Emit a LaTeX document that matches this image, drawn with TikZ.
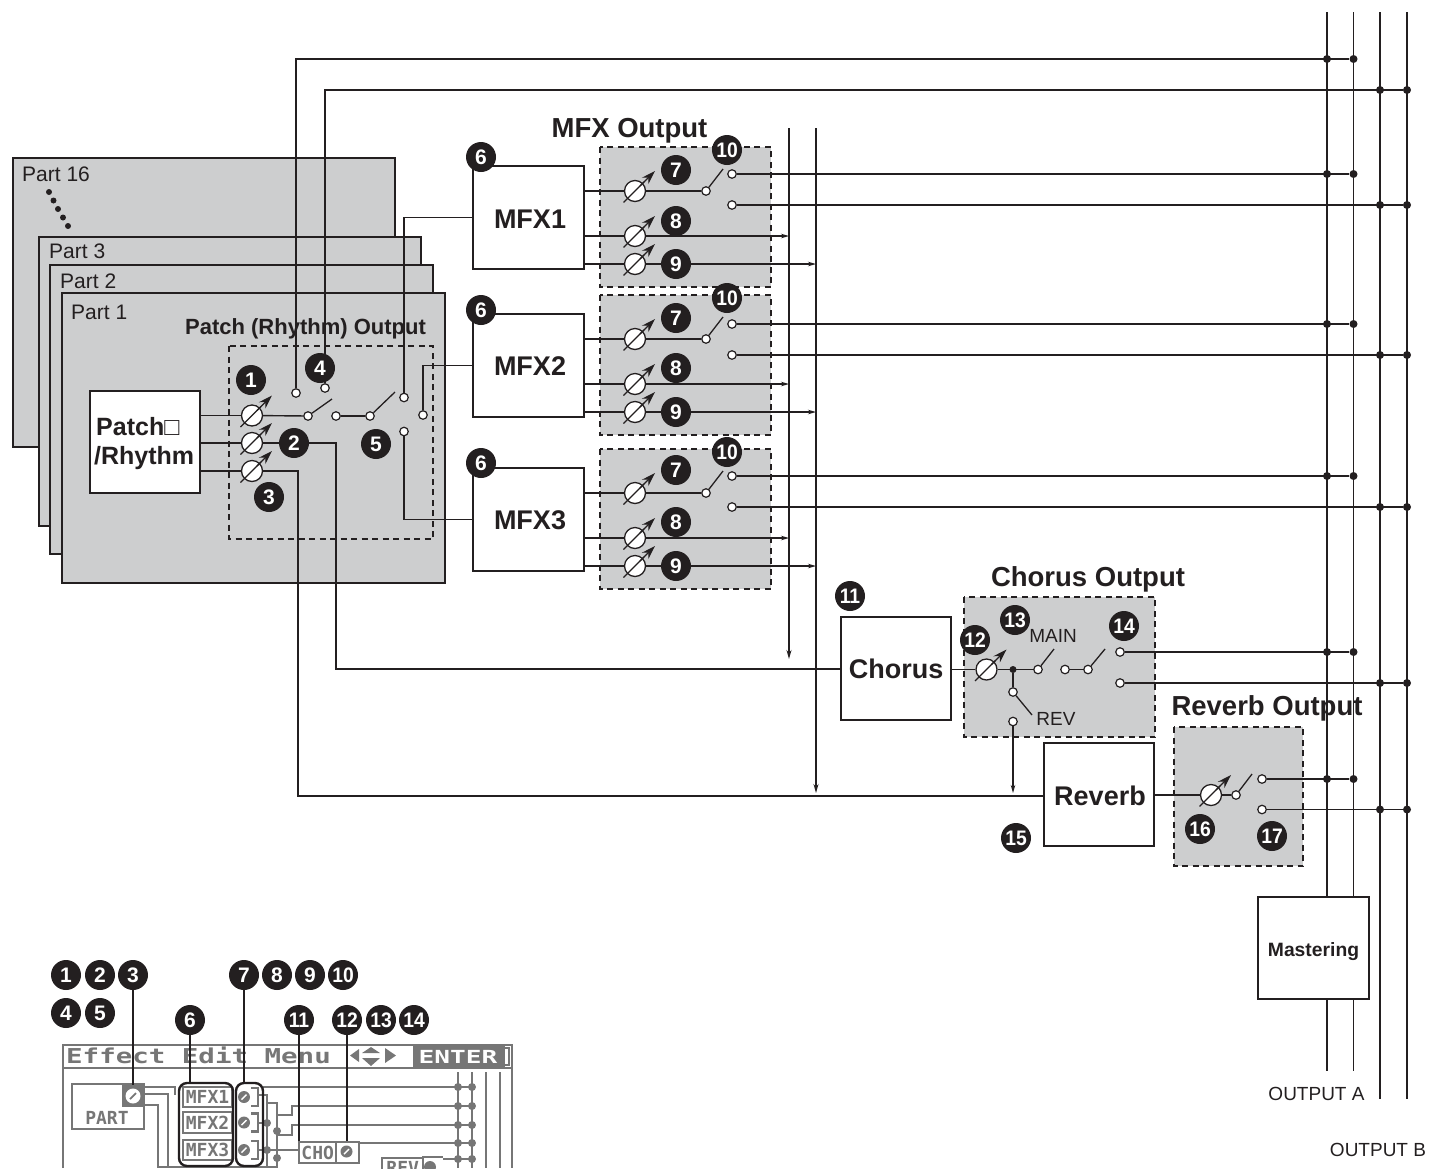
\documentclass[tikz,border=0pt]{standalone}
\usepackage{graphicx}
\usepackage{fontspec}
\setmainfont{Liberation Sans}
\newfontfamily\lcdfont{DejaVu Sans Mono}
\usetikzlibrary{arrows.meta}
\definecolor{ink}{HTML}{231F20}
\definecolor{panel}{HTML}{CDCECF}
\definecolor{lcd}{HTML}{767676}
\newcommand{\fs}[1]{\fontsize{#1}{#1}\selectfont}
\newcommand{\twod}[1]{\scalebox{.92}[1]{#1}}
\tikzset{
  wire/.style={draw=ink,line width=1.4pt},
  arrowwire/.style={wire,-{Stealth[length=9pt,width=5pt]}},
  part/.style={draw=ink,line width=1.2pt,fill=panel},
  gbox/.style={draw=ink,line width=1.3pt,fill=panel,dashed,dash pattern=on 6pt off 4.5pt},
  wbox/.style={draw=ink,line width=1.3pt,fill=white,inner sep=0pt,font=\bfseries\fs{27},text=ink},
  term/.style={circle,draw=ink,line width=1.2pt,fill=white,minimum size=8.5pt,inner sep=0pt},
  knob/.style={circle,draw=ink,line width=1.3pt,fill=white,minimum size=21pt,inner sep=0pt},
  dot/.style={circle,fill=ink,minimum size=8pt,inner sep=0pt},
  badge/.style={circle,fill=ink,minimum size=30pt,inner sep=0pt,text=white,font=\bfseries\fs{21}},
  lab/.style={inner sep=0pt,text=ink,font=\fs{21}},
  small/.style={inner sep=0pt,text=ink,font=\fs{19}},
  head/.style={inner sep=0pt,text=ink,font=\bfseries\fs{27.5}},
  lcdline/.style={draw=lcd,line width=2.4pt},
  lcdbox/.style={draw=lcd,line width=2.4pt,fill=white,inner sep=0pt,text=lcd,font=\lcdfont\bfseries\fs{18}},
  lcddot/.style={circle,fill=lcd,minimum size=8pt,inner sep=0pt},
  lcdknob/.style={circle,fill=lcd,minimum size=12pt,inner sep=0pt},
  halo/.style={draw=ink,line width=2.4pt,rounded corners=8pt},
  leader/.style={draw=ink,line width=2.4pt},
}
\newcommand{\knobat}[3]{%
  \node[knob] (#1) at (#2,#3) {};
  \draw[ink,line width=1.3pt] (#1)+(-11.5,11.5) -- +(9,-9);
  \draw[ink,line width=1.3pt,-{Stealth[length=14pt,width=9pt]}] (#1)+(5,-5) -- +(20,-20);
}
\newcommand{\swarm}[3]{\draw[ink,line width=1.3pt] (#1) -- (#2,#3);}
\newcommand{\bad}[3]{\node[badge] at (#1,#2) {#3};}
\newcommand{\badb}[3]{\node[badge] at (#1,#2) {\twod{#3}};}
\begin{document}
\begin{tikzpicture}[x=1pt,y=-1pt]
\useasboundingbox (0,0) rectangle (1439,1168);
\clip (0,0) rectangle (1439,1168);

% Parts
\draw[part] (13,158) rectangle (395,447);
\draw[part] (39,237) rectangle (421,526);
\draw[part] (50,265) rectangle (433,554);
\draw[part] (62,293) rectangle (445,583);
\node[lab,anchor=west] (p16) at (22,174.5) {Part 16};
\node[lab,anchor=west] (p3) at (49,251.5) {Part 3};
\node[lab,anchor=west] (p2) at (60,281.5) {Part 2};
\node[lab,anchor=west] (p1) at (71,312) {Part 1};
\foreach \x/\y in {49/192,53.5/200.5,58/209,63/217.5,68/226} \fill[ink] (\x,\y) circle (3pt);

% Panels
\draw[draw=ink,line width=1.3pt,dashed,dash pattern=on 6pt off 4.5pt] (229,346) rectangle (433,539);
\draw[gbox] (600,147) rectangle (771,287);
\draw[gbox] (600,295) rectangle (771,435);
\draw[gbox] (600,449) rectangle (771,589);
\draw[gbox] (964,597) rectangle (1155,737);
\draw[gbox] (1174,727) rectangle (1303,866);

% Headings
\node[inner sep=0pt,text=ink,font=\bfseries\fs{22}] (hpatch) at (305.5,329) {Patch (Rhythm) Output};
\node[head] (hmfx) at (629.5,131) {MFX Output};
\node[head] (hcho) at (1088,579) {Chorus Output};
\node[head] (hrev) at (1267,708) {Reverb Output};

% Output buses
\coordinate (busAt) at (1327,12); \coordinate (busAb) at (1327,1071);
\coordinate (busBt) at (1353.5,12); \coordinate (busBb) at (1353.5,1071);
\coordinate (busCt) at (1380,12); \coordinate (busCb) at (1380,1099);
\coordinate (busDt) at (1407,12); \coordinate (busDb) at (1407,1099);
\draw[wire] (busAt) -- (busAb);
\draw[wire] (busBt) -- (busBb);
\draw[wire] (busCt) -- (busCb);
\draw[wire] (busDt) -- (busDb);
\node[draw=ink,line width=1.3pt,fill=white,inner sep=0pt,minimum width=111pt,minimum height=102pt] (master) at (1313.5,948) {};
\node[inner sep=0pt,text=ink,font=\bfseries\fs{19.3}] (mastertxt) at (1313.5,952) {Mastering};
\node[small] (outa) at (1316.5,1094) {OUTPUT A};
\node[small] (outb) at (1378,1150) {OUTPUT B};

% Effect buses
\coordinate (sendTa) at (789,128); \coordinate (sendBa) at (789,659);
\coordinate (sendTb) at (816,128); \coordinate (sendBb) at (816,793);
\draw[arrowwire] (sendTa) -- (sendBa);
\draw[arrowwire] (sendTb) -- (sendBb);

% Patch
\node[draw=ink,line width=1.3pt,fill=white,minimum width=110pt,minimum height=102pt,inner sep=0pt] (patch) at (145,442) {};
\node[inner sep=0pt,anchor=west,text=ink,font=\bfseries\fs{25}] (patcha) at (96,427) {Patch□};
\node[inner sep=0pt,anchor=west,text=ink,font=\bfseries\fs{25}] (patchb) at (94,458) {/Rhythm};

\knobat{k1}{252}{415.5}
\knobat{k2}{252}{443}
\knobat{k3}{252}{471}
\node[term] (ta) at (296,393) {};
\node[term] (tb) at (325,388) {};
\node[term] (tc) at (308,416) {};
\node[term] (td) at (336,416) {};
\node[term] (te) at (370,416) {};
\node[term] (tf) at (404,397.5) {};
\node[term] (tg) at (423,415) {};
\node[term] (th) at (404,431.5) {};
\swarm{tc}{332}{399}
\swarm{te}{395}{392}

% MFX
\foreach \n/\o/\p/\t/\ty in {1/0/0/MFX1/219,2/148/150/MFX2/366,3/302/302/MFX3/520}{
  \node[wbox,minimum width=111pt,minimum height=103pt] (mfx\n) at (528.5,217.5+\o) {};
  \node[inner sep=0pt,text=ink,font=\bfseries\fs{27}] (mfxt\n) at (530,\ty) {\t};
  \knobat{ka\n}{635}{191+\o}
  \knobat{kb\n}{635}{236+\o}
  \knobat{kc\n}{635}{264+\o}
  \node[term] (sa\n) at (706,191+\o) {};
  \node[term] (oa\n) at (732,174+\p) {};
  \node[term] (ob\n) at (732,205+\p) {};
  \swarm{sa\n}{723}{169+\o}
  \node[dot] (da\n) at (1327,174+\p) {};
  \node[dot] (db\n) at (1353.5,174+\p) {};
  \node[dot] (dc\n) at (1380,205+\p) {};
  \node[dot] (dd\n) at (1407,205+\p) {};
  \draw[wire] (mfx\n.east |- ka\n) -- (ka\n);
  \draw[wire] (ka\n) -- (sa\n);
  \draw[wire] (mfx\n.east |- kb\n) -- (kb\n);
  \draw[wire] (mfx\n.east |- kc\n) -- (kc\n);
  \draw[wire,-{Stealth[length=8pt,width=4.5pt]}] (kb\n) -- (sendTa |- kb\n);
  \draw[wire,-{Stealth[length=8pt,width=4.5pt]}] (kc\n) -- (sendTb |- kc\n);
  \draw[wire] (oa\n) -- (db\n);
  \draw[wire] (ob\n) -- (dd\n);
}

% Top dots
\node[dot] (top1) at (1327,59) {};
\node[dot] (top2) at (1353.5,59) {};
\node[dot] (top3) at (1380,90) {};
\node[dot] (top4) at (1407,90) {};

% Patch wires
\draw[wire] (patch.east |- k1) -- (k1);
\draw[wire] (patch.east |- k2) -- (k2);
\draw[wire] (patch.east |- k3) -- (k3);
\draw[wire] (k1) -- (tc);
\draw[wire] (td) -- (te);
\draw[wire] (ta) |- (top2);
\draw[wire] (tb) |- (top4);
\draw[wire] (tf) |- (mfx1.west);
\draw[wire] (tg) |- (mfx2.west);
\draw[wire] (th) |- (mfx3.west);

% Chorus
\node[wbox,minimum width=110pt,minimum height=103pt] (chorus) at (896,668.5) {Chorus};
\knobat{kcho}{986.5}{669.5}
\node[dot,minimum size=7pt] (jn) at (1013,669.5) {};
\node[term] (cm) at (1038,669.5) {};
\node[term] (cn) at (1065,669.5) {};
\node[term] (co) at (1088,669.5) {};
\node[term] (cp) at (1120,652) {};
\node[term] (cq) at (1120,683) {};
\node[term] (cr) at (1013,692) {};
\node[term] (cs) at (1013,721.5) {};
\swarm{cm}{1054}{649}
\swarm{co}{1105}{649}
\swarm{cr}{1032}{715}
\node[small] (lmain) at (1053,636) {MAIN};
\node[small] (lrev) at (1056,718.5) {REV};
\draw[wire] (chorus.east |- kcho) -- (kcho);
\draw[wire] (kcho) -- (cm);
\draw[wire] (jn) -- (cr);
\draw[wire] (cn) -- (co);
\node[dot] (d1) at (1327,652) {};
\node[dot] (d2) at (1353.5,652) {};
\node[dot] (d3) at (1380,683) {};
\node[dot] (d4) at (1407,683) {};
\draw[wire] (cp) -- (d2);
\draw[wire] (cq) -- (d4);

% Reverb
\node[wbox,minimum width=110pt,minimum height=103pt] (reverb) at (1099,794.5) {};
\node[inner sep=0pt,text=ink,font=\bfseries\fs{27}] (revtxt) at (1100,796) {Reverb};
\knobat{krev}{1211}{795}
\node[term] (ra) at (1236,795) {};
\node[term] (rb) at (1262,779) {};
\node[term] (rc) at (1262,809.5) {};
\swarm{ra}{1252}{774}
\draw[wire] (reverb.east |- krev) -- (krev);
\draw[wire] (krev) -- (ra);
\node[dot] (d5) at (1327,779) {};
\node[dot] (d6) at (1353.5,779) {};
\node[dot] (d7) at (1380,809.5) {};
\node[dot] (d8) at (1407,809.5) {};
\draw[wire] (rb) -- (d6);
\draw[wire] (rc) -- (d8);

% Sends
\draw[wire] (k2) -| (336,669) -- (chorus.west |- 336,669);
\draw[wire] (k3) -| (298,796) -- (reverb.west |- 298,796);
\draw[wire,-{Stealth[length=8pt,width=4.5pt]}] (cs) -- (1013,793);

% Badges
\bad{251}{380}{1}\bad{294}{443}{2}\bad{269}{497}{3}\bad{320}{368}{4}\bad{376}{444}{5}
\foreach \a/\b/\c/\d/\e in {157/170/221/264/150,310/318/368/412/298,463/470/522/566/452}{
  \bad{481}{\a}{6}\bad{676}{\b}{7}\bad{676}{\c}{8}\bad{676}{\d}{9}\badb{727}{\e}{10}
}
\badb{850}{596}{11}\badb{975}{640}{12}\badb{1015}{620}{13}\badb{1124}{626}{14}
\badb{1016}{838}{15}\badb{1200}{829}{16}\badb{1272}{836}{17}

% LCD screen
\draw[lcdline] (63,1168) -- (63,1045) -- (512,1045) -- (512,1168);
\draw[lcdline] (63,1068) -- (512,1068);
\node[inner sep=0pt,anchor=west,text=lcd,font=\lcdfont\bfseries\fs{20.5}] (ttl) at (66,1055.5) {\scalebox{1.34}[1]{Effect Edit Menu}};
\fill[lcd] (350,1055.5) -- (359,1049) -- (359,1062) -- cycle;
\fill[lcd] (371,1047) -- (362,1053) -- (380,1053) -- cycle;
\fill[lcd] (371,1066) -- (362,1058) -- (380,1058) -- cycle;
\fill[lcd] (396,1055.5) -- (385,1048) -- (385,1063) -- cycle;
\fill[lcd] (413,1045) rectangle (505,1067);
\node[inner sep=0pt,text=white,font=\lcdfont\bfseries\fs{18}] (ent) at (458,1056.5) {\scalebox{1.45}[1]{ENTER}};
\draw[lcdline] (504,1048) -- (509,1048) -- (509,1065) -- (504,1065);

\foreach \x in {458,472,486,500} \draw[lcdline] (\x,1072) -- (\x,1168);
\node[lcdbox,minimum width=72pt,minimum height=45pt,anchor=north west] (lpart) at (71,1083) {};
\node[inner sep=0pt,text=lcd,font=\lcdfont\bfseries\fs{18}] (lparttxt) at (107,1118) {PART};
\fill[lcd] (122,1083) rectangle (145,1107);
\node[circle,fill=white,minimum size=15pt,inner sep=0pt] (lk) at (133,1096) {};
\draw[lcd,line width=1.8pt] (lk)+(-3,3) -- +(3,-3);
\draw[lcdline] (145,1087) -- (175,1087) -- (175,1095);
\draw[lcdline] (145,1094) -- (168,1094) -- (168,1168);
\draw[lcdline] (145,1105) -- (158,1105) -- (158,1168);
\draw[lcdline] (158,1167) -- (277,1167);
\draw[lcdline] (263,1087) -- (458,1087);
\foreach \n/\y/\h/\t in {1/1097/20/MFX1,2/1122.5/21/MFX2,3/1150/20/MFX3}{
  \node[lcdbox,minimum width=49pt,minimum height=\h pt] (lm\n) at (207.5,\y) {\t};
  \node[lcdknob] (lk\n) at (244,\y) {};
  \draw[white,line width=1.4pt] (lk\n)+(-2.5,2.5) -- +(2.5,-2.5);
  \draw[lcdline] (251,\y-9) -- (258,\y-9) -- (258,\y+9) -- (251,\y+9);
}
\draw[lcdline] (258,1095) -- (267,1095) -- (267,1168);
\draw[lcdline] (267,1103) -- (277,1103) -- (277,1168);
\draw[lcdline] (258,1123) -- (267,1123);
\draw[lcdline] (277,1115) -- (292,1115) -- (292,1106) -- (458,1106);
\draw[lcdline] (277,1135) -- (292,1135) -- (292,1125) -- (458,1125);
\draw[lcdline] (258,1150) -- (298,1150);
\node[lcddot] (lj1) at (277,1131) {};
\node[lcddot] (lj2) at (277,1158) {};
\node[lcddot] (lj3) at (267,1123) {};
\node[lcddot] (lj4) at (267,1150) {};
\node[lcdbox,minimum width=37pt,minimum height=21pt,anchor=north west] (lcho) at (298,1141) {CHO};
\node[draw=lcd,line width=2.4pt,fill=white,minimum width=23pt,minimum height=21pt,inner sep=0pt,anchor=north west] (lchk) at (335,1141) {};
\node[lcdknob] (lk4) at (346.5,1151.5) {};
\draw[white,line width=1.4pt] (lk4)+(-2.5,2.5) -- +(2.5,-2.5);
\draw[lcdline] (358,1143) -- (458,1143);
\node[lcdbox,minimum width=41pt,minimum height=20pt,anchor=north west] (lrevb) at (381,1157) {REV};
\node[lcdknob] (lk5) at (430,1167) {};
\draw[lcdline] (422,1157) -- (443,1157);
\draw[lcdline] (443,1159) -- (458,1159);
\foreach \y in {1087,1106,1125,1143,1159}{
  \draw[lcdline] (458,\y) -- (472,\y);
  \node[lcddot] at (458,\y) {};
  \node[lcddot] at (472,\y) {};
}

\draw[halo] (179,1083) rectangle (233,1166);
\draw[halo] (236,1083) rectangle (263,1166);

% LCD badges and leaders
\foreach \x/\y/\t in {66/975/1,100/975/2,133/975/3,244/975/7,277/975/8,310/975/9,66/1013/4,100/1013/5,190/1020/6}{
  \node[badge] (lb\t) at (\x,\y) {\t};
}
\foreach \x/\y/\t in {343/975/10,299/1020/11,347/1020/12,381/1020/13,414/1020/14}{
  \node[badge] (lb\t) at (\x,\y) {\twod{\t}};
}
\draw[leader] (lb3) -- (133,1085);
\draw[leader] (lb6) -- (190,1083);
\draw[leader] (lb7) -- (244,1083);
\draw[leader] (lb11) -- (299,1141);
\draw[leader] (lb12) -- (347,1141);
\end{tikzpicture}
\end{document}
